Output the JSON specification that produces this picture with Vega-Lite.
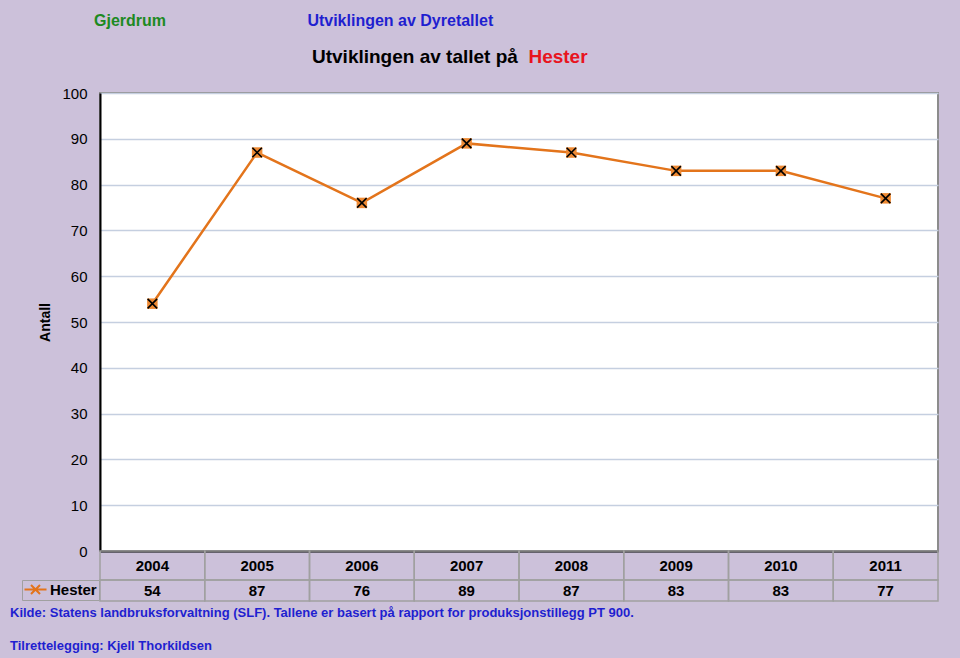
{
  "$schema": "https://vega.github.io/schema/vega-lite/v6.json",
  "background": "#CCC1DA",
  "autosize": {"type": "pad"},
  "padding": {"left": 10, "top": 13, "right": 22, "bottom": 5},
  "config": {"font": "Liberation Sans", "view": {"stroke": null}},
  "bounds": "flush",
  "spacing": 0,
  "title": {
    "text": "Gjerdrum",
    "subtitle": "\u200b\u00a0\u00a0\u00a0\u00a0\u00a0\u00a0\u00a0\u00a0\u00a0\u00a0\u00a0\u00a0\u00a0\u00a0\u00a0\u00a0\u00a0\u00a0\u00a0\u00a0\u00a0\u00a0\u00a0\u00a0\u00a0\u00a0\u00a0\u00a0\u00a0\u00a0\u00a0\u00a0\u00a0\u00a0\u00a0\u00a0\u00a0\u00a0\u00a0\u00a0\u00a0\u00a0\u00a0\u00a0\u00a0\u00a0\u00a0\u00a0Utviklingen av Dyretallet",
    "anchor": "start",
    "frame": "group",
    "dx": -6,
    "offset": 18,
    "color": "#1C8A22",
    "fontSize": 16,
    "fontWeight": "bold",
    "subtitleColor": "#1F1FD0",
    "subtitleFontSize": 16,
    "subtitleFontWeight": "bold",
    "subtitlePadding": -16
  },
  "vconcat": [
    {
      "width": 838,
      "height": 458,
      "view": {"stroke": "#8C8C8C", "strokeWidth": 2, "fill": "#FFFFFF"},
      "title": {
        "text": "Utviklingen av tallet på",
        "subtitle": "\u200b\u00a0\u00a0\u00a0\u00a0\u00a0\u00a0\u00a0\u00a0\u00a0\u00a0\u00a0\u00a0\u00a0\u00a0\u00a0\u00a0\u00a0\u00a0\u00a0\u00a0\u00a0\u00a0\u00a0\u00a0\u00a0\u00a0\u00a0\u00a0\u00a0\u00a0\u00a0\u00a0\u00a0\u00a0\u00a0\u00a0\u00a0\u00a0\u00a0\u00a0\u00a0Hester",
        "anchor": "start",
        "frame": "group",
        "dx": 212,
        "offset": 19,
        "color": "#000000",
        "fontSize": 19,
        "fontWeight": "bold",
        "subtitleColor": "#E8141E",
        "subtitleFontSize": 19,
        "subtitleFontWeight": "bold",
        "subtitlePadding": -19
      },
      "data": {"values": [
        {"year": "2004", "value": 54},
        {"year": "2005", "value": 87},
        {"year": "2006", "value": 76},
        {"year": "2007", "value": 89},
        {"year": "2008", "value": 87},
        {"year": "2009", "value": 83},
        {"year": "2010", "value": 83},
        {"year": "2011", "value": 77}
      ]},
      "encoding": {
        "x": {
          "field": "year", "type": "ordinal",
          "scale": {"type": "point", "padding": 0.5},
          "axis": {"labels": false, "ticks": false, "title": null, "domainColor": "#000000", "domainWidth": 2, "grid": false}
        },
        "y": {
          "field": "value", "type": "quantitative",
          "scale": {"domain": [0, 100], "nice": false},
          "axis": {
            "title": "Antall", "titleFontSize": 14, "titleFontWeight": "bold", "titleColor": "#000000", "titlePadding": 9,
            "labelFontSize": 15, "labelColor": "#000000", "labelPadding": 13, "ticks": false,
            "domainColor": "#000000", "domainWidth": 2,
            "grid": true, "gridColor": "#C5CFE0", "gridWidth": 1.5,
            "values": [0, 10, 20, 30, 40, 50, 60, 70, 80, 90, 100]
          }
        }
      },
      "layer": [
        {
          "mark": {"type": "line", "strokeWidth": 2.5},
          "encoding": {
            "color": {
              "datum": "Hester",
              "scale": {"range": ["#E3741B"]},
              "legend": {
                "orient": "none", "legendX": -78, "legendY": 487,
                "title": null, "direction": "vertical",
                "labelFontSize": 15, "labelFontWeight": "bold", "labelColor": "#000000",
                "symbolType": "M-2.2,0L2.2,0M-0.9,-0.9L0.9,0.9M-0.9,0.9L0.9,-0.9",
                "symbolSize": 100, "symbolStrokeWidth": 2, "symbolStrokeColor": "#E3741B",
                "symbolOffset": 4, "labelOffset": 7,
                "padding": 2, "strokeColor": "#A0A0A0", "fillColor": "#CCC1DA"
              }
            }
          }
        },
        {
          "mark": {"type": "point", "shape": "square", "filled": true, "size": 110, "color": "#EE8A34", "opacity": 1}
        },
        {
          "mark": {"type": "point", "shape": "M-1,-1L1,1M-1,1L1,-1", "filled": false, "color": "#000000", "strokeWidth": 1.6, "size": 90, "opacity": 1}
        }
      ]
    },
    {
      "width": 838,
      "height": 29,
      "data": {"values": [
        {"year": "2004"}, {"year": "2005"}, {"year": "2006"}, {"year": "2007"},
        {"year": "2008"}, {"year": "2009"}, {"year": "2010"}, {"year": "2011"}
      ]},
      "encoding": {
        "x": {"field": "year", "type": "ordinal", "scale": {"paddingInner": 0, "paddingOuter": 0}, "axis": null}
      },
      "layer": [
        {"mark": {"type": "rect", "fill": "transparent", "stroke": "#A0A0A0", "strokeWidth": 1.5}},
        {"mark": {"type": "text", "fontSize": 15, "fontWeight": "bold", "color": "#000000"}, "encoding": {"text": {"field": "year"}}}
      ]
    },
    {
      "width": 838,
      "height": 21,
      "title": {
        "text": "Kilde:  Statens landbruksforvaltning (SLF). Tallene er basert på rapport for produksjonstillegg PT 900.",
        "subtitle": "Tilrettelegging:  Kjell Thorkildsen",
        "orient": "bottom",
        "anchor": "start",
        "frame": "group",
        "dx": -90,
        "offset": 5,
        "color": "#1F1FD0",
        "fontSize": 13,
        "fontWeight": "bold",
        "subtitleColor": "#1F1FD0",
        "subtitleFontSize": 13,
        "subtitleFontWeight": "bold",
        "subtitlePadding": 20
      },
      "data": {"values": [
        {"year": "2004", "value": 54},
        {"year": "2005", "value": 87},
        {"year": "2006", "value": 76},
        {"year": "2007", "value": 89},
        {"year": "2008", "value": 87},
        {"year": "2009", "value": 83},
        {"year": "2010", "value": 83},
        {"year": "2011", "value": 77}
      ]},
      "encoding": {
        "x": {"field": "year", "type": "ordinal", "scale": {"paddingInner": 0, "paddingOuter": 0}, "axis": null}
      },
      "layer": [
        {"mark": {"type": "rect", "fill": "transparent", "stroke": "#A0A0A0", "strokeWidth": 1.5}},
        {"mark": {"type": "text", "fontSize": 15, "fontWeight": "bold", "color": "#000000"}, "encoding": {"text": {"field": "value"}}}
      ]
    }
  ]
}
